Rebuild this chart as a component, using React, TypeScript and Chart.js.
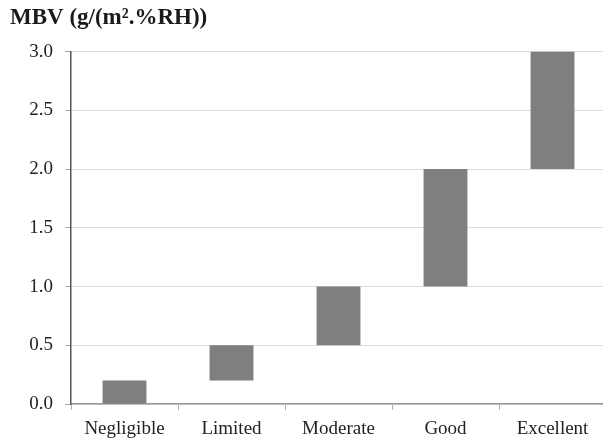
import React, { useEffect, useRef } from "react";
import { Chart, registerables } from "chart.js";

Chart.register(...registerables);

const categories = ["Negligible", "Limited", "Moderate", "Good", "Excellent"];
const lowValues = [0.0, 0.2, 0.5, 1.0, 2.0];
const highValues = [0.2, 0.5, 1.0, 2.0, 3.0];
const yTicks = [0, 0.5, 1.0, 1.5, 2.0, 2.5, 3.0];
const titleText = "MBV (g/(m\u00B2.%RH))";

const FONT = "'Liberation Serif', 'Times New Roman', serif";

export default function App() {
  const ref = useRef<HTMLCanvasElement>(null);
  useEffect(() => {
    document.body.style.margin = "0";
    const ctx = ref.current!;
    const chart = new Chart(ctx, {
      type: "bar",
      data: {
        labels: categories,
        datasets: [
          {
            data: categories.map((_, i) => [lowValues[i], highValues[i]]) as any,
            backgroundColor: "#7f7f82",
            borderWidth: 0,
            barPercentage: 0.41,
            categoryPercentage: 1,
          },
        ],
      },
      options: {
        responsive: false,
        animation: false,
        layout: { padding: { left: 10, right: 0, top: 0, bottom: 0 } },
        plugins: {
          legend: { display: false },
          tooltip: { enabled: false },
          title: {
            display: true,
            text: titleText,
            align: "start",
            color: "#1a1a1a",
            font: { family: FONT, size: 23, weight: "bold" },
            padding: { top: 4, bottom: 20 },
          },
        },
        scales: {
          x: {
            offset: true,
            grid: {
              display: true,
              offset: true,
              drawOnChartArea: false,
              drawTicks: true,
              tickLength: 6,
              tickColor: "#b0b0b0",
            },
            border: { display: true, color: "#999999", width: 1.5 },
            ticks: {
              color: "#222",
              font: { family: FONT, size: 19 },
              padding: 8,
              maxRotation: 0,
            },
            afterFit: (s: any) => {
              s.height = 34;
            },
          },
          y: {
            min: 0,
            max: 3,
            afterBuildTicks: (s: any) => {
              s.ticks = yTicks.map((v) => ({ value: v }));
            },
            grid: {
              color: "#dcdcdc",
              lineWidth: 1,
              drawTicks: true,
              tickLength: 6,
              tickColor: "#aaaaaa",
            },
            border: { display: true, color: "#555555", width: 1.5 },
            ticks: {
              color: "#222",
              font: { family: FONT, size: 19 },
              padding: 12,
              callback: (v: any) => Number(v).toFixed(1),
            },
            afterFit: (s: any) => {
              s.width = 61;
            },
          },
        },
      },
    });
    return () => chart.destroy();
  }, []);
  return (
    <div style={{ width: 603, height: 438, overflow: "hidden" }}>
      <canvas ref={ref} width={606} height={438} style={{ display: "block" }} />
    </div>
  );
}
